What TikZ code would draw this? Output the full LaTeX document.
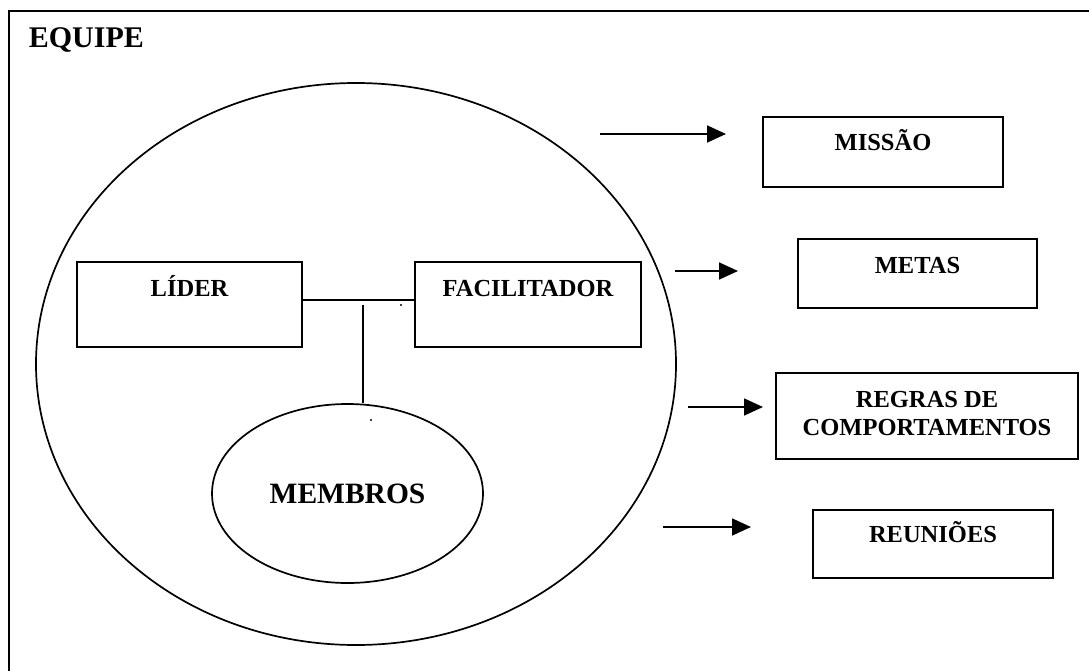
\documentclass[tikz,border=0pt]{standalone}
\usepackage{fontspec}
\setmainfont{Liberation Serif}
\usetikzlibrary{arrows.meta,shapes.geometric}

\begin{document}
\begin{tikzpicture}[x=1pt,y=-1pt,line width=1.7pt,
        box/.style={draw,rectangle,inner sep=0pt,line width=2pt},
        lbl/.style={font=\fontsize{24.5}{28}\selectfont\bfseries,anchor=base,align=center,inner sep=0pt},
        arr/.style={-{Triangle[length=19pt,width=17pt]}}]
        \useasboundingbox (0,0) rectangle (1089,671);
        \clip (0,0) rectangle (1089,671);
        \draw[line width=2.4pt] (9,11) rectangle (1110,700);
        \node[anchor=base west,inner sep=0pt,font=\fontsize{30}{34}\selectfont\bfseries] (titulo) at (28,47.5) {EQUIPE};

        % a equipe
        \node[draw,ellipse,minimum width=640,minimum height=562,inner sep=0pt] (equipe) at (356,364) {};
        \node[box,minimum width=225,minimum height=85] (lider) at (189.5,304.5) {};
        \node[lbl] (liderlbl) at (189.5,296) {LÍDER};
        \node[box,minimum width=226,minimum height=85] (facil) at (528,304.5) {};
        \node[lbl] (facillbl) at (528,296) {FACILITADOR};
        \node[draw,ellipse,minimum width=271,minimum height=179,inner sep=0pt,
              font=\fontsize{29.5}{34}\selectfont\bfseries] (membros) at (347.5,493.5) {MEMBROS};
        \coordinate (tee) at (363,305);
        \draw ([yshift=4.5pt]lider.east) -- ([yshift=4.5pt]facil.west);
        \draw (tee) -- (tee |- membros.north);
        \fill (401,305) circle (1.1);
        \fill (371,420) circle (1.1);

        % o que a equipe define
        \node[box,minimum width=240,minimum height=70] (missao) at (883,152) {};
        \node[lbl] (missaolbl) at (883,151) {MISSÃO};
        \node[box,minimum width=239,minimum height=69] (metas) at (917.5,273.5) {};
        \node[lbl] (metaslbl) at (917.5,273) {METAS};
        \node[box,minimum width=302,minimum height=86] (regras) at (927,416) {};
        \node[lbl] (regraslbl) at (927,435) {REGRAS DE\\COMPORTAMENTOS};
        \node[box,minimum width=240,minimum height=68] (reunioes) at (933,544) {};
        \node[lbl] (reunioeslbl) at (933,542.5) {REUNIÕES};

        \coordinate (a1) at (600,134);
        \coordinate (b1) at (726,134);
        \coordinate (a2) at (675,271);
        \coordinate (b2) at (738,271);
        \coordinate (a3) at (688,407);
        \coordinate (b3) at (763,407);
        \coordinate (a4) at (663,527);
        \coordinate (b4) at (751,527);
        \draw[arr] (a1) -- (b1);
        \draw[arr] (a2) -- (b2);
        \draw[arr] (a3) -- (b3);
        \draw[arr] (a4) -- (b4);
    \end{tikzpicture}
\end{document}
